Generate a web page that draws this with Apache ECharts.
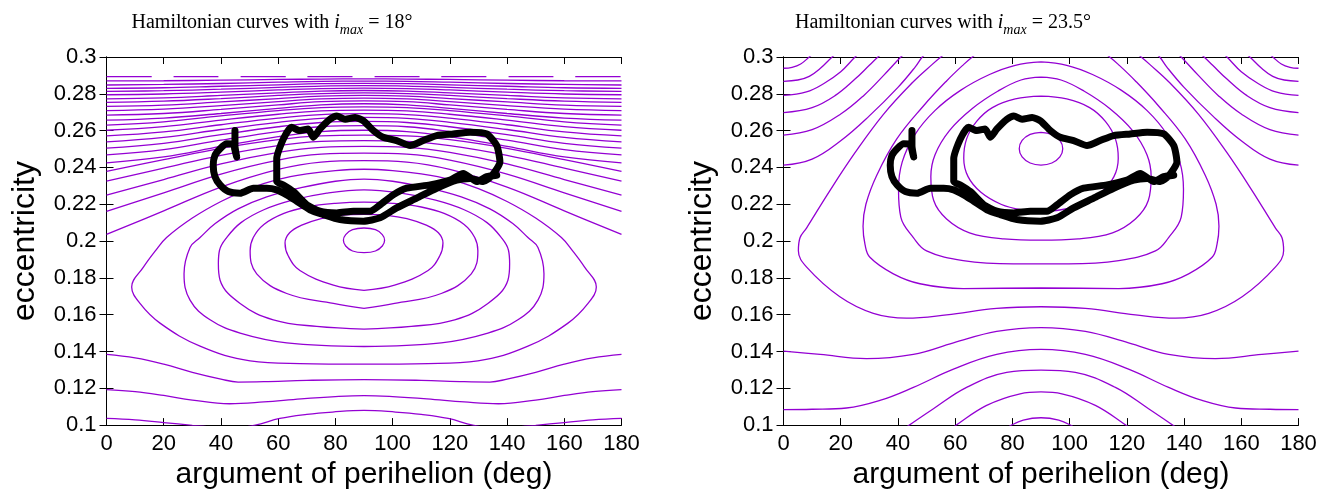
<!DOCTYPE html>
<html><head><meta charset="utf-8">
<script src="https://cdn.jsdelivr.net/npm/echarts/dist/echarts.min.js"></script>
<style>html,body{margin:0;padding:0;background:#fff}#c{width:1333px;height:495px}</style>
</head><body><div id="c"></div><script>
// ---------- axis ticks ----------
const xTickValues = [0,20,40,60,80,100,120,140,160,180];
const yTickValues = [0.1,0.12,0.14,0.16,0.18,0.2,0.22,0.24,0.26,0.28,0.3];
const titles = ['18°', '23.5°'];

// ---------- LEFT PANEL (i_max = 18°) ----------
const leftArchX = [0,20,40,60,75,90,105,120,140,160,180];
const leftArchE = [
 [.2893,.2893,.2893,.2893,.2893,.2893,.2893,.2893,.2893,.2893,.2893],
 [.2870,.2871,.2874,.2878,.2880,.2881,.2880,.2878,.2874,.2871,.2870],
 [.2848,.2851,.2856,.2863,.2868,.2869,.2868,.2863,.2856,.2851,.2848],
 [.2830,.2833,.2841,.2849,.2855,.2857,.2855,.2849,.2841,.2833,.2830],
 [.2813,.2817,.2825,.2835,.2842,.2844,.2842,.2835,.2825,.2817,.2813],
 [.2795,.2799,.2809,.2821,.2828,.2831,.2828,.2821,.2809,.2799,.2795],
 [.2773,.2778,.2791,.2805,.2815,.2818,.2815,.2805,.2791,.2778,.2773],
 [.2754,.2760,.2774,.2791,.2801,.2805,.2801,.2791,.2774,.2760,.2754],
 [.2732,.2739,.2756,.2774,.2787,.2791,.2787,.2774,.2756,.2739,.2732],
 [.2709,.2717,.2736,.2758,.2772,.2777,.2772,.2758,.2736,.2717,.2709],
 [.2684,.2693,.2715,.2740,.2757,.2762,.2757,.2740,.2715,.2693,.2684],
 [.2657,.2668,.2693,.2721,.2740,.2746,.2740,.2721,.2693,.2668,.2657],
 [.2630,.2648,.2680,.2709,.2725,.2729,.2725,.2709,.2680,.2648,.2630],
 [.2602,.2622,.2657,.2689,.2707,.2711,.2707,.2689,.2657,.2622,.2602],
 [.2571,.2593,.2632,.2668,.2687,.2692,.2687,.2668,.2632,.2593,.2571],
 [.2539,.2563,.2606,.2645,.2667,.2672,.2667,.2645,.2606,.2563,.2539],
 [.2505,.2531,.2578,.2621,.2644,.2650,.2644,.2621,.2578,.2531,.2505],
 [.2468,.2497,.2548,.2595,.2621,.2627,.2621,.2595,.2548,.2497,.2468],
 [.2425,.2457,.2514,.2567,.2595,.2602,.2595,.2567,.2514,.2457,.2425],
 [.2379,.2442,.2504,.2551,.2571,.2575,.2571,.2551,.2504,.2442,.2379],
 [.2325,.2396,.2466,.2519,.2542,.2546,.2542,.2519,.2466,.2396,.2325],
 [.2250,.2334,.2419,.2482,.2509,.2514,.2509,.2482,.2419,.2334,.2250],
 [.2161,.2262,.2364,.2440,.2472,.2478,.2472,.2440,.2364,.2262,.2161],
 [.2036,.2164,.2293,.2389,.2429,.2437,.2429,.2389,.2293,.2164,.2036]
];
const leftLow1 = [[0,.1384],[10,.1365],[20,.1331],[30,.1287],[40,.1250],[46,.1234],[55,.1236],[70,.1243],[90,.1247],[110,.1243],[125,.1236],[134,.1234],[140,.1250],[150,.1287],[160,.1331],[170,.1365],[180,.1384]];
const leftLow2 = [[0,.1193],[10,.1182],[20,.1161],[30,.1136],[43,.1116],[55,.1126],[68,.1143],[80,.1155],[90,.1160],[100,.1155],[112,.1143],[125,.1126],[137,.1116],[150,.1136],[160,.1161],[170,.1182],[180,.1193]];
const leftLow3 = [[0,.1036],[10,.1028],[20,.1014],[30,.0999],[38,.0988],[45,.0985],[52,.1000],[60.6,.1036],[70,.1058],[79,.1071],[90,.1080],[101,.1071],[110,.1058],[119.4,.1036],[128,.1000],[135,.0985],[142,.0988],[150,.0999],[160,.1014],[170,.1028],[180,.1036]];
const leftClosed1 = [[90,.1937],[86,.1946],[83.6,.1973],[82.8,.2004],[83.6,.2035],[86,.2062],[90,.2071],[94,.2062],[96.4,.2035],[97.2,.2004],[96.4,.1973],[94,.1946],[90,.1937]];
const leftClosed2 = [[90,.1732],[79.3,.1760],[67.6,.1840],[63.5,.1920],[62.4,.1990],[64,.2045],[68,.2085],[75,.2122],[82,.2140],[90,.2145],[98,.2140],[105,.2122],[112,.2085],[116,.2045],[117.6,.1990],[116.5,.1920],[112.4,.1840],[100.7,.1760],[90,.1732]];
const leftClosed3 = [[90,.1634],[79.3,.1661],[63,.1715],[52.5,.1822],[50.2,.1947],[51.3,.2019],[55,.2090],[62,.2150],[70,.2185],[80,.2205],[90,.2212],[100,.2205],[110,.2185],[118,.2150],[125,.2090],[128.7,.2019],[129.8,.1947],[127.5,.1822],[117,.1715],[100.7,.1661],[90,.1634]];
const leftClosed4 = [[90,.1522],[73.5,.1536],[58.3,.1572],[46.7,.1661],[39.7,.1787],[39.1,.1876],[39.5,.1950],[42,.2019],[47,.2100],[55,.2170],[65,.2222],[77,.2260],[90,.2278],[103,.2260],[115,.2222],[125,.2170],[133,.2100],[138,.2019],[140.5,.1950],[140.9,.1876],[140.3,.1787],[133.3,.1661],[121.7,.1572],[106.5,.1536],[90,.1522]];
const leftClosed5 = [[90,.1427],[63,.1447],[46.7,.1500],[36.2,.1572],[29.2,.1679],[27.1,.1822],[29.2,.1965],[32.7,.2019],[38,.2095],[46,.2175],[56,.2240],[68,.2290],[80,.2325],[90,.2337],[100,.2325],[112,.2290],[124,.2240],[134,.2175],[142,.2095],[147.3,.2019],[150.8,.1965],[152.9,.1822],[150.8,.1679],[143.8,.1572],[133.3,.1500],[117,.1447],[90,.1427]];
const leftClosed6 = [[90,.1331],[67.6,.1334],[50.2,.1349],[32.7,.1429],[18.7,.1554],[11.7,.1661],[8.8,.1751],[12.9,.1858],[17,.1945],[21,.2019],[30,.2125],[40,.2215],[50,.2285],[60,.2335],[70,.2365],[80,.2383],[90,.2390],[100,.2383],[110,.2365],[120,.2335],[130,.2285],[140,.2215],[150,.2125],[159,.2019],[163,.1945],[167.1,.1858],[171.2,.1751],[168.3,.1661],[161.3,.1554],[147.3,.1429],[129.8,.1349],[112.4,.1334],[90,.1331]];

// ---------- RIGHT PANEL (i_max = 23.5°) ----------
const rightCornerL1 = [[0,.2939],[3,.2944],[6,.2962],[9,.3000],[10,.3015]];
const rightCornerL2 = [[0,.2868],[5,.2875],[9,.2895],[13,.2940],[17,.3000],[18,.3012]];
const rightCornerL3 = [[0,.2791],[8,.2810],[14,.2855],[20,.2920],[25,.3000],[26,.3012]];
const rightCornerL4 = [[0,.2698],[10,.2725],[18,.2790],[25,.2880],[30,.2955],[33,.3000],[34,.3012]];
const rightCornerL5 = [[0,.2576],[10,.2605],[20,.2690],[28,.2790],[35,.2900],[41,.3000],[42,.3012]];
const rightCornerL6 = [[0,.2412],[10,.2445],[20,.2545],[30,.2680],[40,.2835],[46,.2945],[48.5,.3000],[49.5,.3012]];
const rightCornerR1 = [[180,.2939],[177,.2944],[174,.2962],[171,.3000],[170,.3015]];
const rightCornerR2 = [[180,.2868],[175,.2875],[171,.2895],[167,.2940],[163,.3000],[162,.3012]];
const rightCornerR3 = [[180,.2791],[172,.2810],[166,.2855],[160,.2920],[155,.3000],[154,.3012]];
const rightCornerR4 = [[180,.2698],[170,.2725],[162,.2790],[155,.2880],[150,.2955],[147,.3000],[146,.3012]];
const rightCornerR5 = [[180,.2576],[170,.2605],[160,.2690],[152,.2790],[145,.2900],[139,.3000],[138,.3012]];
const rightCornerR6 = [[180,.2412],[170,.2445],[160,.2545],[150,.2680],[140,.2835],[134,.2945],[131.5,.3000],[130.5,.3012]];
const rightLow1 = [[0,.1402],[12.8,.1384],[29,.1361],[45.4,.1384],[59.4,.1447],[74.5,.1509],[90,.1530],[105.5,.1509],[120.6,.1447],[134.6,.1384],[151,.1361],[167.2,.1384],[180,.1402]];
const rightLow2 = [[0,.1084],[10,.1086],[22,.1093],[33.7,.1134],[45.4,.1205],[59.4,.1304],[74.5,.1384],[90,.1411],[105.5,.1384],[120.6,.1304],[134.6,.1205],[146.3,.1134],[158,.1093],[170,.1086],[180,.1084]];
const rightLow3 = [[42.5,.0985],[43.6,.0996],[52.4,.1089],[64,.1205],[78,.1286],[90,.1299],[102,.1286],[116,.1205],[127.6,.1089],[136.4,.0996],[137.5,.0985]];
const rightLow4 = [[59,.0985],[60,.0996],[71,.1107],[82.7,.1170],[90,.1180],[97.3,.1170],[109,.1107],[120,.0996],[121,.0985]];
const rightLow5 = [[78.5,.0985],[79.2,.0996],[83.8,.1027],[90,.1040],[96.2,.1027],[100.8,.0996],[101.5,.0985]];
const rightClosed1 = [[90,.2591],[86.2,.2580],[83.4,.2547],[82.4,.2502],[83.4,.2457],[86.2,.2424],[90,.2413],[93.8,.2424],[96.6,.2457],[97.6,.2502],[96.6,.2547],[93.8,.2580],[90,.2591]];
const rightClosed2 = [[90,.2787],[81,.2772],[73,.2725],[67.5,.2650],[64,.2555],[63,.2450],[64.5,.2350],[69,.2265],[76,.2200],[83,.2170],[90,.2162],[97,.2170],[104,.2200],[111,.2265],[115.5,.2350],[117,.2450],[116,.2555],[112.5,.2650],[107,.2725],[99,.2772],[90,.2787]];
const rightClosed3 = [[90,.2891],[83,.2875],[75,.2815],[66,.2720],[58,.2600],[53,.2470],[51.5,.2350],[52.5,.2220],[57,.2120],[65,.2045],[77,.2012],[90,.2005],[103,.2012],[115,.2045],[123,.2120],[127.5,.2220],[128.5,.2350],[127,.2470],[122,.2600],[114,.2720],[105,.2815],[97,.2875],[90,.2891]];
const rightClosed4 = [[90,.2973],[81,.2955],[72,.2905],[62,.2820],[53,.2710],[46,.2580],[41.5,.2430],[40.2,.2280],[41,.2130],[45.4,.2019],[50,.1947],[62.8,.1894],[80.3,.1876],[90,.1876],[99.7,.1876],[117.2,.1894],[130,.1947],[134.6,.2019],[139,.2130],[139.8,.2280],[138.5,.2430],[134,.2580],[127,.2710],[118,.2820],[108,.2905],[99,.2955],[90,.2973]];
const rightClosed5 = [[69,.3035],[66,.3000],[63,.2960],[57,.2870],[48.9,.2734],[39.6,.2555],[32.6,.2358],[28.8,.2200],[27.8,.2080],[28.5,.1980],[30.2,.1912],[38.4,.1822],[47.7,.1768],[62.8,.1742],[90,.1745],[117.2,.1742],[132.3,.1768],[141.6,.1822],[149.8,.1912],[151.5,.1980],[152.2,.2080],[151.2,.2200],[147.4,.2358],[140.4,.2555],[131.1,.2734],[123,.2870],[117,.2960],[114,.3000],[111,.3035]];
const rightClosed6 = [[58,.3035],[55,.3000],[52,.2960],[45,.2860],[35,.2690],[25,.2480],[16,.2269],[8.1,.2072],[5.8,.2019],[5.2,.1947],[8.1,.1858],[19.7,.1697],[31.4,.1607],[43,.1581],[57,.1599],[74.5,.1634],[90,.1643],[105.5,.1634],[123,.1599],[137,.1581],[148.6,.1607],[160.3,.1697],[171.9,.1858],[174.8,.1947],[174.2,.2019],[171.9,.2072],[164,.2269],[155,.2480],[145,.2690],[135,.2860],[128,.2960],[125,.3000],[122,.3035]];

// ---------- orbit trajectory (same in both panels) ----------
const trajectory = [
 [44.9,.2600],[44.9,.2519],[45.5,.2457],[44.8,.2500],[44.5,.2525],[42,.2528],[39.7,.2501],[37.9,.2465],[37.3,.2412],[37.9,.2350],[39.7,.2305],[42.6,.2269],[46.7,.2260],[51.3,.2287],[56,.2287],[59.5,.2278],[63,.2251],[66.5,.2216],[71.1,.2170],[75.8,.2144],[81.6,.2117],[89.8,.2108],[95.6,.2126],[101.4,.2180],[108.4,.2233],[115.4,.2287],[122.4,.2331],[127.1,.2340],[131.7,.2323],[134.5,.2352],[137.5,.2430],[136.4,.2519],[132.9,.2582],[127.1,.2591],[121.2,.2582],[115.4,.2573],[110.7,.2546],[106.1,.2519],[101.4,.2546],[96.7,.2564],[93.3,.2600],[89.8,.2653],[86.9,.2671],[83.4,.2662],[80.5,.2680],[78.1,.2662],[74.6,.2609],[72.3,.2564],[70.5,.2609],[67.6,.2600],[64.7,.2618],[61.8,.2555],[59.5,.2448],[59.5,.2323],[61.8,.2305],[65.3,.2269],[70,.2197],[74.6,.2162],[80.5,.2153],[86.3,.2162],[92.1,.2162],[95.6,.2197],[100.2,.2251],[104.9,.2287],[113.1,.2305],[120.1,.2331],[124.7,.2367],[129.4,.2323],[132.9,.2350],[136.4,.2358]
];

// ---------- build chart ----------
const PURPLE = '#9400d3';
const SANS = 'Liberation Sans, Arial, Helvetica, sans-serif';
const SERIF = 'Liberation Serif, DejaVu Serif, serif';
const grids = [
  {left: 106.5, top: 57, width: 515, height: 373},
  {left: 783.5, top: 57, width: 515, height: 373}
];
function fmtY(v){ return String(+v.toFixed(2)); }
const xAxes = [], yAxes = [];
grids.forEach((g, gi) => {
  const common = {gridIndex: gi, type: 'value', min: 0, max: 180, interval: 20,
    axisLine: {show: true, lineStyle: {color: '#000', width: 1}},
    axisTick: {show: true, inside: true, length: 7, lineStyle: {color: '#000', width: 1}},
    splitLine: {show: false}};
  xAxes.push(Object.assign({}, common, {position: 'bottom',
    axisLabel: {show: true, color: '#000', fontFamily: SANS, fontSize: 22, margin: 8},
    name: 'argument of perihelion (deg)', nameLocation: 'middle', nameGap: 33,
    nameTextStyle: {color: '#000', fontFamily: SANS, fontSize: 30}}));
  xAxes.push(Object.assign({}, common, {position: 'top', axisLabel: {show: false}}));
  const ycommon = {gridIndex: gi, type: 'value', min: 0.1, max: 0.3, interval: 0.02,
    axisLine: {show: true, lineStyle: {color: '#000', width: 1}},
    axisTick: {show: true, inside: true, length: 7, lineStyle: {color: '#000', width: 1}},
    splitLine: {show: false}};
  yAxes.push(Object.assign({}, ycommon, {position: 'left',
    axisLabel: {show: true, color: '#000', fontFamily: SANS, fontSize: 22, margin: 10, formatter: fmtY},
    name: 'eccentricity', nameLocation: 'middle', nameGap: 65, nameRotate: 90,
    nameTextStyle: {color: '#000', fontFamily: SANS, fontSize: 32}}));
  yAxes.push(Object.assign({}, ycommon, {position: 'right', axisLabel: {show: false}}));
});

const series = [];
function addCurve(points, gi, extra) {
  series.push(Object.assign({
    type: 'line', xAxisIndex: gi * 2, yAxisIndex: gi * 2, data: points,
    symbol: 'none', showSymbol: false, smooth: 0.4,
    lineStyle: {color: PURPLE, width: 1.3}, clip: true, silent: true, animation: false, z: 2
  }, extra || {}));
}
leftArchE.forEach((row, i) => {
  const pts = leftArchX.map((x, j) => [x, row[j]]);
  addCurve(pts, 0, i === 0 ? {lineStyle: {color: PURPLE, width: 1.3, type: [45, 22]}} : null);
});
[leftLow1, leftLow2, leftLow3,
 leftClosed1, leftClosed2, leftClosed3, leftClosed4, leftClosed5, leftClosed6].forEach(c => addCurve(c, 0));
[rightCornerL1, rightCornerL2, rightCornerL3, rightCornerL4, rightCornerL5, rightCornerL6,
 rightCornerR1, rightCornerR2, rightCornerR3, rightCornerR4, rightCornerR5, rightCornerR6,
 rightLow1, rightLow2, rightLow3, rightLow4, rightLow5,
 rightClosed1, rightClosed2, rightClosed3, rightClosed4, rightClosed5, rightClosed6].forEach(c => addCurve(c, 1));
[0, 1].forEach(gi => series.push({
  type: 'line', xAxisIndex: gi * 2, yAxisIndex: gi * 2, data: trajectory,
  symbol: 'none', showSymbol: false, smooth: 0.2,
  lineStyle: {color: '#000', width: 7, join: 'round', cap: 'round'},
  clip: true, silent: true, animation: false, z: 5
}));

const titleRich = {
  n: {fontFamily: SERIF, fontSize: 20, fontWeight: 'normal', color: '#000', lineHeight: 28},
  i: {fontFamily: SERIF, fontSize: 20, fontWeight: 'normal', fontStyle: 'italic', color: '#000', lineHeight: 28},
  s: {fontFamily: SERIF, fontSize: 14, fontWeight: 'normal', fontStyle: 'italic', color: '#000', lineHeight: 14, verticalAlign: 'bottom'}
};
const chart = echarts.init(document.getElementById('c'), null, {renderer: 'canvas'});
chart.setOption({
  animation: false,
  backgroundColor: '#fff',
  title: titles.map((t, gi) => ({
    text: '{n|Hamiltonian curves with }{i|i}{s|max}{n| = ' + t + '}',
    left: gi === 0 ? 267 : 938, top: 4, textAlign: 'center',
    textStyle: {fontWeight: 'normal', rich: titleRich}
  })),
  grid: grids,
  xAxis: xAxes,
  yAxis: yAxes,
  series: series
});
</script></body></html>
